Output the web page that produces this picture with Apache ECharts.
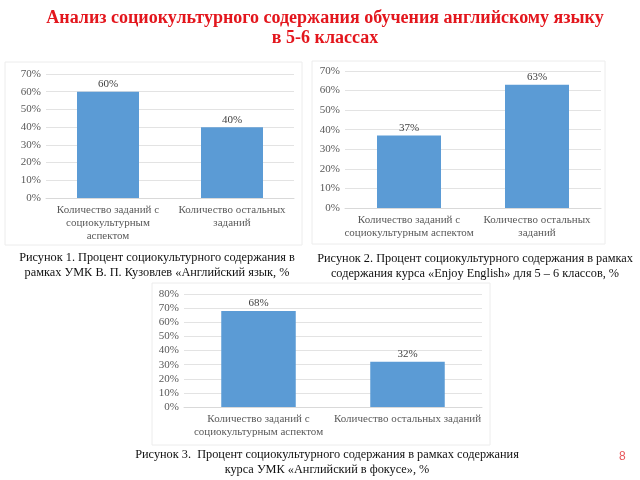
<!DOCTYPE html>
<html><head><meta charset="utf-8">
<script src="https://cdn.jsdelivr.net/npm/echarts@6/dist/echarts.min.js"></script>
<style>html,body{margin:0;padding:0;background:#fff}#c{width:640px;height:480px}</style>
</head><body><div id="c"></div>
<script>
const title = 'Анализ социокультурного содержания обучения английскому языку\nв 5-6 классах';
const cats1 = ['Количество заданий с\nсоциокультурным\nаспектом', 'Количество остальных\nзаданий'];
const vals1 = [60, 40];
const ticks1 = [0, 70, 10];
const caption1 = 'Рисунок 1. Процент социокультурного содержания в\nрамках УМК В. П. Кузовлев «Английский язык, %';
const cats2 = ['Количество заданий с\nсоциокультурным аспектом', 'Количество остальных\nзаданий'];
const vals2 = [37, 63];
const ticks2 = [0, 70, 10];
const caption2 = 'Рисунок 2. Процент социокультурного содержания в рамках\nсодержания курса «Enjoy English» для 5 – 6 классов, %';
const cats3 = ['Количество заданий с\nсоциокультурным аспектом', 'Количество остальных заданий'];
const vals3 = [68, 32];
const ticks3 = [0, 80, 10];
const caption3 = 'Рисунок 3.  Процент социокультурного содержания в рамках содержания\nкурса УМК «Английский в фокусе», %';
const pageNum = '8';

const FF = 'Liberation Serif';
const BAR = '#5B9BD5';
const grids = [
  {left: 46, top: 74, width: 248, height: 124},
  {left: 345, top: 71, width: 256, height: 137},
  {left: 184, top: 294, width: 298, height: 113}
];
const catsAll = [cats1, cats2, cats3];
const valsAll = [vals1, vals2, vals3];
const ticksAll = [ticks1, ticks2, ticks3];
const barW = ['50%', '50%', '50%'];

const chart = echarts.init(document.getElementById('c'), null, {renderer: 'canvas'});
const xAxis = [], yAxis = [], series = [];
for (let i = 0; i < 3; i++) {
  xAxis.push({
    type: 'category', gridIndex: i, data: catsAll[i],
    axisLine: {lineStyle: {color: '#d9d9d9'}}, axisTick: {show: false},
    axisLabel: {color: '#595959', fontFamily: FF, fontSize: 11, lineHeight: 13, margin: 6, interval: 0}
  });
  yAxis.push({
    type: 'value', gridIndex: i, min: ticksAll[i][0], max: ticksAll[i][1], interval: ticksAll[i][2],
    axisLine: {show: false}, axisTick: {show: false},
    splitLine: {lineStyle: {color: '#e3e3e3'}},
    axisLabel: {color: '#595959', fontFamily: FF, fontSize: 11, margin: 5, formatter: '{value}%'}
  });
  series.push({
    type: 'bar', xAxisIndex: i, yAxisIndex: i, data: valsAll[i], barWidth: barW[i],
    itemStyle: {color: BAR},
    label: {show: true, position: 'top', distance: 2, color: '#404040', fontFamily: FF, fontSize: 11, formatter: '{c}%'}
  });
}

chart.setOption({
  animation: false,
  title: [
    {text: title, left: 320, top: 3, textAlign: 'center',
     textStyle: {color: '#e3161d', fontFamily: FF, fontWeight: 'bold', fontSize: 18, lineHeight: 20, align: 'center'}},
    {text: caption1, left: 152, top: 245, textAlign: 'center',
     textStyle: {color: '#111', fontFamily: FF, fontWeight: 'normal', fontSize: 12.3, lineHeight: 15, align: 'center'}},
    {text: caption2, left: 470, top: 246, textAlign: 'center',
     textStyle: {color: '#111', fontFamily: FF, fontWeight: 'normal', fontSize: 12.3, lineHeight: 15, align: 'center'}},
    {text: caption3, left: 322, top: 442, textAlign: 'center',
     textStyle: {color: '#111', fontFamily: FF, fontWeight: 'normal', fontSize: 12.3, lineHeight: 15, align: 'center'}},
    {text: pageNum, left: 614, top: 446,
     textStyle: {color: '#e8585c', fontFamily: 'Liberation Sans', fontWeight: 'normal', fontSize: 12}}
  ],
  graphic: [
    {type: 'rect', shape: {x: 5, y: 62, width: 297, height: 183}, style: {fill: 'none', stroke: '#ececec', lineWidth: 1}},
    {type: 'rect', shape: {x: 312, y: 61, width: 293, height: 183}, style: {fill: 'none', stroke: '#ececec', lineWidth: 1}},
    {type: 'rect', shape: {x: 152, y: 283, width: 338, height: 162}, style: {fill: 'none', stroke: '#ececec', lineWidth: 1}}
  ],
  grid: grids,
  xAxis: xAxis,
  yAxis: yAxis,
  series: series
});
</script></body></html>
